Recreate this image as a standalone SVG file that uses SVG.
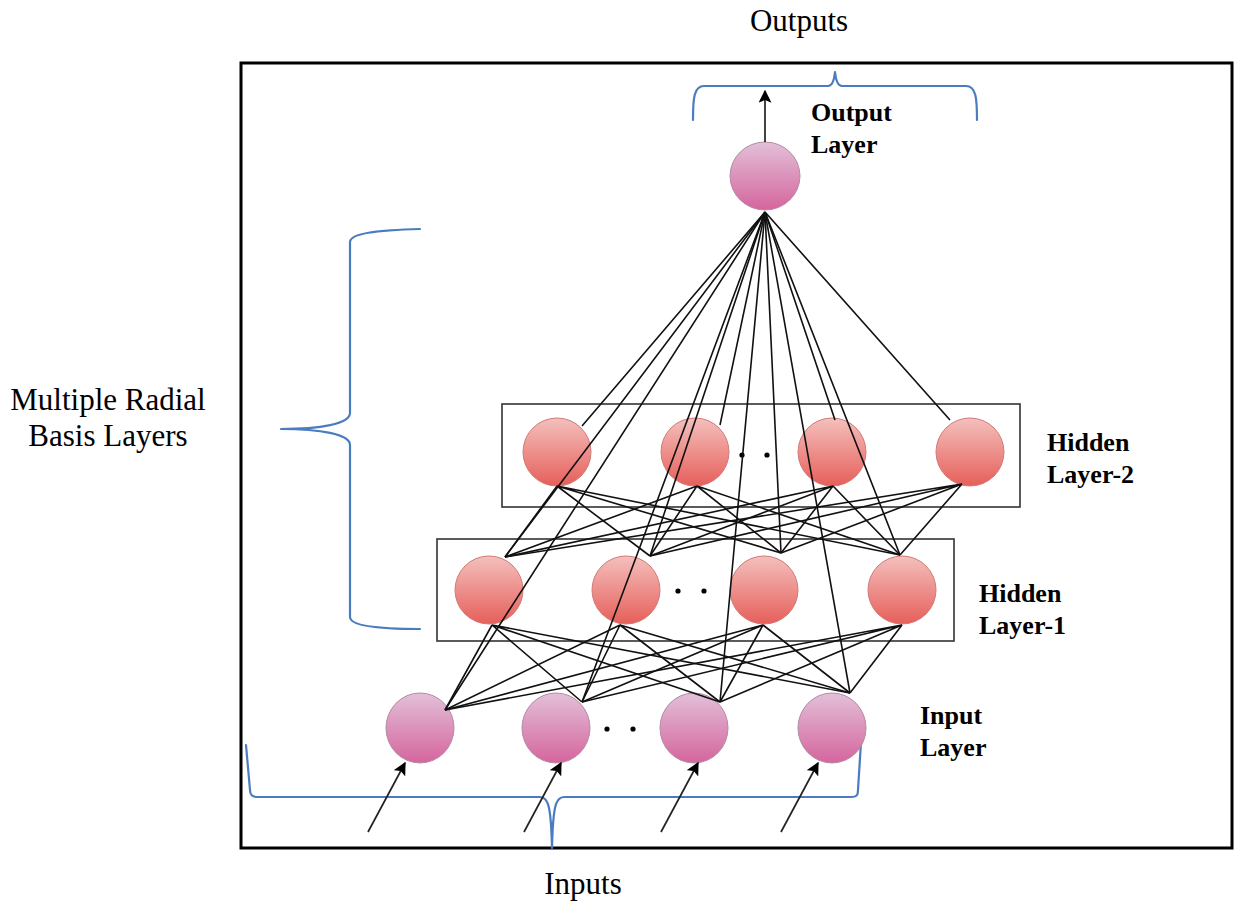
<svg xmlns="http://www.w3.org/2000/svg" width="1235" height="904" viewBox="0 0 1235 904">
  <defs>
    <linearGradient id="gPink" x1="0" y1="0" x2="0" y2="1">
      <stop offset="0" stop-color="#e2c0d8"/>
      <stop offset="1" stop-color="#d5659d"/>
    </linearGradient>
    <linearGradient id="gRed" x1="0" y1="0" x2="0" y2="1">
      <stop offset="0" stop-color="#f4c0bd"/>
      <stop offset="1" stop-color="#e65f5a"/>
    </linearGradient>
    <marker id="arrowBig" viewBox="0 0 10 10" refX="9" refY="5" markerWidth="13" markerHeight="13" orient="auto" markerUnits="userSpaceOnUse">
      <path d="M0,0 L10,5 L0,10 L2,5 Z" fill="#000"/>
    </marker>
  </defs>
  <style>
    .frame { fill: none; stroke: #000; stroke-width: 3; }
    .box { fill: none; stroke: #333; stroke-width: 1.6; }
    .pink { fill: url(#gPink); stroke: #b48aa4; stroke-width: 1; }
    .red { fill: url(#gRed); stroke: #d27a78; stroke-width: 1; }
    .brace { fill: none; stroke: #4a7cbf; stroke-width: 2.2; stroke-linecap: round; stroke-linejoin: round; }
    .edge { stroke: #111; stroke-width: 1.6; fill: none; }
    .arr { stroke: #222; stroke-width: 1.7; fill: none; }
    .dot { fill: #000; }
    .lbl { font-family: "Liberation Serif", "Times New Roman", serif; font-size: 31px; fill: #000; }
    .bold { font-family: "Liberation Serif", "Times New Roman", serif; font-size: 26px; font-weight: bold; fill: #000; }
  </style>

  <rect class="frame" x="241" y="63" width="991" height="785"/>

  <!-- layer boxes -->
  <rect class="box" x="502" y="404" width="518" height="103"/>
  <rect class="box" x="437" y="539" width="517" height="102"/>

  <!-- braces -->
  <path class="brace" d="M693,120 C693,98 694,86 704,86 L828,86 C832,86 834,82 835,72 C836,82 838,86 842,86 L966,86 C976,86 977,98 977,120"/>
  <path class="brace" d="M420,229 C380,230 350,233 350,242 L350,413 C350,424 320,429 281,429 C320,429 350,434 350,445 L350,617 C350,626 380,629 420,629"/>
  <path class="brace" d="M246,745 L250,790 C250,795 252,797 258,797 L540,797 C548,797 551,805 552,848 C553,805 556,797 564,797 L851,797 C857,797 858,795 858,790 L861,742"/>

  <!-- nodes -->
  <g id="output-node"><ellipse class="pink" cx="765" cy="176" rx="35" ry="34"/></g>

  <g id="hidden2-1"><ellipse class="red" cx="557" cy="452" rx="34" ry="34"/></g>
  <g id="hidden2-2"><ellipse class="red" cx="695" cy="452" rx="34" ry="34"/></g>
  <g id="hidden2-3"><ellipse class="red" cx="832" cy="452" rx="34" ry="34"/></g>
  <g id="hidden2-4"><ellipse class="red" cx="970" cy="452" rx="34" ry="34"/></g>

  <g id="hidden1-1"><ellipse class="red" cx="489" cy="590" rx="34" ry="34"/></g>
  <g id="hidden1-2"><ellipse class="red" cx="626" cy="590" rx="34" ry="34"/></g>
  <g id="hidden1-3"><ellipse class="red" cx="764" cy="590" rx="34" ry="34"/></g>
  <g id="hidden1-4"><ellipse class="red" cx="902" cy="590" rx="34" ry="34"/></g>

  <g id="input-1"><ellipse class="pink" cx="420" cy="728" rx="34" ry="35"/></g>
  <g id="input-2"><ellipse class="pink" cx="556" cy="728" rx="34" ry="35"/></g>
  <g id="input-3"><ellipse class="pink" cx="694" cy="728" rx="34" ry="35"/></g>
  <g id="input-4"><ellipse class="pink" cx="832" cy="728" rx="34" ry="35"/></g>

  <!-- ellipsis dots between nodes -->
  <g id="ellipsis">
    <circle class="dot" cx="742" cy="455" r="2.6"/><circle class="dot" cx="767" cy="455" r="2.6"/>
    <circle class="dot" cx="678" cy="591" r="2.6"/><circle class="dot" cx="704" cy="591" r="2.6"/>
    <circle class="dot" cx="607" cy="729" r="2.6"/><circle class="dot" cx="633" cy="729" r="2.6"/>
  </g>

  <!-- connectors -->
  <g id="connectors">
    <!-- output fan -->
    <path class="edge" d="M765,212 L582,426 M765,212 L720,425 M765,212 L835,420 M765,212 L950,420"/>
    <path class="edge" d="M765,212 L505,557 M765,212 L650,556 M765,212 L781,553 M765,212 L900,555"/>
    <path class="edge" d="M765,212 L445,710 M765,212 L582,702 M765,212 L720,702 M765,212 L850,693"/>
    <!-- hidden-2 to hidden-1 -->
    <path class="edge" d="M557,486 L505,557 M557,486 L650,556 M557,486 L781,553 M557,486 L900,555"/>
    <path class="edge" d="M697,486 L505,557 M697,486 L650,556 M697,486 L781,553 M697,486 L900,555"/>
    <path class="edge" d="M833,486 L505,557 M833,486 L650,556 M833,486 L781,553 M833,486 L900,555"/>
    <path class="edge" d="M962,484 L505,557 M962,484 L650,556 M962,484 L781,553 M962,484 L900,555"/>
    <!-- hidden-1 to input -->
    <path class="edge" d="M492,625 L445,710 M492,625 L582,702 M492,625 L720,702 M492,625 L850,693"/>
    <path class="edge" d="M620,625 L445,710 M620,625 L582,702 M620,625 L720,702 M620,625 L850,693"/>
    <path class="edge" d="M763,625 L445,710 M763,625 L582,702 M763,625 L720,702 M763,625 L850,693"/>
    <path class="edge" d="M902,625 L445,710 M902,625 L582,702 M902,625 L720,702 M902,625 L850,693"/>
    <!-- output arrow -->
    <line class="arr" x1="765" y1="142" x2="765" y2="91" marker-end="url(#arrowBig)"/>
    <!-- input arrows -->
    <line class="arr" x1="368" y1="832" x2="405" y2="763" marker-end="url(#arrowBig)"/>
    <line class="arr" x1="524" y1="832" x2="561" y2="763" marker-end="url(#arrowBig)"/>
    <line class="arr" x1="661" y1="832" x2="698" y2="763" marker-end="url(#arrowBig)"/>
    <line class="arr" x1="781" y1="832" x2="818" y2="763" marker-end="url(#arrowBig)"/>
  </g>

  <!-- labels -->
  <text class="lbl" x="799" y="31" text-anchor="middle">Outputs</text>
  <text class="lbl" x="583" y="894" text-anchor="middle">Inputs</text>
  <text class="lbl" x="108" y="410" text-anchor="middle">Multiple Radial</text>
  <text class="lbl" x="108" y="446" text-anchor="middle">Basis Layers</text>
  <text class="bold" x="811" y="121">Output</text>
  <text class="bold" x="811" y="153">Layer</text>
  <text class="bold" x="1047" y="451">Hidden</text>
  <text class="bold" x="1047" y="483">Layer-2</text>
  <text class="bold" x="979" y="602">Hidden</text>
  <text class="bold" x="979" y="634">Layer-1</text>
  <text class="bold" x="920" y="724">Input</text>
  <text class="bold" x="920" y="756">Layer</text>
</svg>
